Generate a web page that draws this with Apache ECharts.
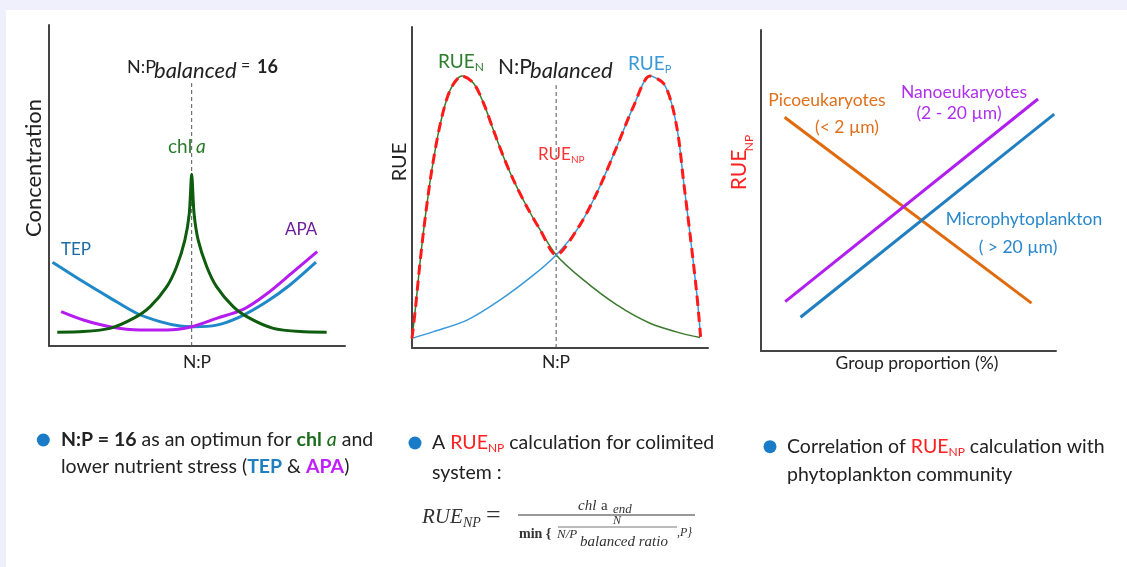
<!DOCTYPE html>
<html><head><meta charset="utf-8">
<script src="https://cdn.jsdelivr.net/npm/echarts@6/dist/echarts.min.js"></script>
<style>html,body{margin:0;padding:0;background:#eff0fc;}#c{position:absolute;left:0;top:0;width:1127px;height:567px;}</style>
</head><body><div id="c"></div>
<script>
// ---------- Panel 1: concentration vs N:P ----------
const chlA = [[2.8,4.3],[11.6,4.5],[20.6,5.5],[28.5,8.6],[34.1,12.2],[39.8,18.5],[43.1,24.7],[45.9,33.0],[47.4,41.3],[48.2,53.5],[49.0,41.3],[50.4,33.0],[53.3,24.7],[56.6,18.5],[62.3,12.2],[67.9,8.6],[75.8,5.5],[84.8,4.5],[93.8,4.3]];
const tep = [[1.2,26.1],[11.6,20.0],[20.6,15.0],[29.6,10.2],[37.5,7.6],[44.3,6.2],[48.8,6.0],[56.6,6.5],[64.5,9.1],[73.5,13.8],[81.4,19.0],[90.2,26.1]];
const apa = [[4.1,10.7],[11.6,8.1],[20.6,6.0],[30.7,5.0],[39.8,5.0],[48.2,6.0],[56.6,8.6],[65.6,11.4],[73.5,16.2],[82.5,23.1],[90.6,29.4]];
const balanced1 = [[48.2,0],[48.2,81.9]];
// ---------- Panel 2: RUE vs N:P ----------
const rueN = [[0,3.0],[1.1,11.8],[2.8,27.4],[4.5,40.9],[6.7,55.5],[9.6,70.0],[12.9,80.4],[16.9,84.7],[20.8,82.5],[24.2,76.2],[27.5,67.9],[30.9,59.6],[34.3,52.3],[38.8,44.0],[43.3,36.8],[48.7,29.0],[57.9,21.2],[69.2,13.4],[80.4,7.7],[91.7,4.4],[97.3,3.3]];
const rueP = [[0,3.0],[7.3,5.1],[18.6,8.7],[29.8,15.0],[41.0,22.7],[48.7,29.0],[55.7,36.8],[62.4,48.2],[69.2,62.7],[74.8,75.2],[80.4,84.7],[84.9,82.5],[87.7,76.2],[90.0,65.8],[91.7,52.3],[93.9,35.7],[96.2,17.0],[97.5,3.5]];
const npBalanced = 48.7;
const balanced2 = [[48.7,0],[48.7,81.9]];
const rueNP = rueN.filter(p => p[0] <= npBalanced).concat(rueP.filter(p => p[0] > npBalanced));
// ---------- Panel 3: RUE_NP vs group proportion ----------
const pico = [[8.0,72.8],[91.7,14.9]];
const nano = [[8.2,15.4],[93.9,78.5]];
const micro = [[13.4,10.5],[99.4,73.8]];

const F = "Lato,'Open Sans',sans-serif";
const SERIF = "'Liberation Serif','DejaVu Serif',serif";
const TXT = '#222';
const BODY = 19.5;

function ax(i){
  return {type:'value', gridIndex:i, min:0, max:100,
    axisLine:{show:true, onZero:false, lineStyle:{color:'#444', width:2}},
    axisTick:{show:false}, axisLabel:{show:false}, splitLine:{show:false}};
}
function ln(i, data, color, width, smooth, type){
  return {type:'line', xAxisIndex:i, yAxisIndex:i, data:data, showSymbol:false, smooth:smooth,
    lineStyle:{color:color, width:width, type:type||'solid'}, silent:true};
}
function t(x, y, text, size, color, extra){
  return {type:'text', x:x, y:y, style:Object.assign({text:text, fontFamily:F, fontSize:size, fill:color||TXT, align:'left', verticalAlign:'middle'}, extra||{})};
}
function tc(x, y, text, size, color, extra){ return t(x,y,text,size,color,Object.assign({align:'center'}, extra||{})); }
function tr(x, y, text, size, color, extra){
  return {type:'text', x:x, y:y, rotation:Math.PI/2, style:Object.assign({text:text, fontFamily:F, fontSize:size, fill:color||TXT, align:'center', verticalAlign:'middle'}, extra||{})};
}
function subRich(color, big, small){
  return {
    r:{fontFamily:F, fontSize:big, fill:color, lineHeight:big+3},
    s:{fontFamily:F, fontSize:small, fill:color, verticalAlign:'bottom', lineHeight:big+3}
  };
}

const graphics = [
  {type:'rect', z:-10, shape:{x:6, y:10, width:1121, height:557}, style:{fill:'#ffffff'}},
  // Panel 1
  t(127,67,'N:P',18), t(154,71,'balanced',22,TXT,{fontStyle:'italic'}), t(241,66,'=',16), t(257,67,'16',18,TXT,{fontWeight:'bold'}),
  t(168,147,'chl',19,'#2a7a2a'), t(196,147,'a',19,'#2a7a2a',{fontStyle:'italic'}),
  t(61,250,'TEP',17,'#1f6aa5'), t(285,230,'APA',17,'#6d1d9c'),
  tc(197,362,'N:P',17.5),
  tr(34,168,'Concentration',22),
  // Panel 2
  t(438,62,'{r|RUE}{s|N}',19,'#2d7d2d',{rich:subRich('#2d7d2d',19,12)}),
  t(498,67,'N:P',21), t(530,71,'balanced',22,TXT,{fontStyle:'italic'}),
  t(628,64,'{r|RUE}{s|P}',19,'#3a9ad9',{rich:subRich('#3a9ad9',19,11)}),
  t(538,155,'{r|RUE}{s|NP}',17,'#ff3333',{rich:subRich('#ff3333',17,10)}),
  tc(556,362,'N:P',17.5),
  tr(400,162,'RUE',20),
  // Panel 3
  tc(827,100,'Picoeukaryotes',17.5,'#e0701c'), tc(847,127,'(< 2 µm)',17.5,'#e0701c'),
  tc(964,92,'Nanoeukaryotes',17.5,'#b030f0'), tc(959,113,'(2 - 20 µm)',17.5,'#b030f0'),
  tc(1024,219,'Microphytoplankton',17.5,'#2a88cc'), tc(1018,247,'( > 20 µm)',17.5,'#2a88cc'),
  tc(917,363,'Group proportion (%)',17.5),
  tr(739,170,'RUE',21,'#ff2020'),
  tr(749,143,'NP',12,'#ff2020'),
  // Bullets
  {type:'circle', shape:{cx:43.3, cy:440, r:6.5}, style:{fill:'#1a7cc8'}},
  {type:'circle', shape:{cx:415, cy:443, r:6.5}, style:{fill:'#1a7cc8'}},
  {type:'circle', shape:{cx:770, cy:446.7, r:6.5}, style:{fill:'#1a7cc8'}},
  t(61,440,'{b|N:P = 16} as an optimun for {g|chl} {gi|a} and',BODY,TXT,{rich:{
     b:{fontWeight:'bold', fontFamily:F, fontSize:BODY, fill:TXT},
     g:{fontWeight:'bold', fontFamily:F, fontSize:BODY, fill:'#1a6b1a'},
     gi:{fontStyle:'italic', fontFamily:F, fontSize:BODY, fill:'#1a6b1a'}}}),
  t(61,467,'lower nutrient stress ({tp|TEP} & {ap|APA})',BODY,TXT,{rich:{
     tp:{fontWeight:'bold', fontFamily:F, fontSize:BODY, fill:'#1f7fc0'},
     ap:{fontWeight:'bold', fontFamily:F, fontSize:BODY, fill:'#c020ff'}}}),
  t(432,443,'A {r|RUE}{s|NP} calculation for colimited',BODY,TXT,{rich:subRich('#ff2020',BODY,12)}),
  t(432,473,'system :',BODY),
  t(787,447,'Correlation of {r|RUE}{s|NP} calculation with',BODY,TXT,{rich:subRich('#ff2020',BODY,12)}),
  t(787,475,'phytoplankton community',BODY),
  // Formula
  t(422,517,'RUE',21,'#333',{fontFamily:SERIF, fontStyle:'italic'}),
  t(463,523,'NP',14,'#333',{fontFamily:SERIF, fontStyle:'italic'}),
  t(486,516,'=',26,'#333',{fontFamily:SERIF}),
  {type:'line', shape:{x1:518, y1:515, x2:695, y2:515}, style:{stroke:'#777', lineWidth:1.5}},
  t(578,506,'chl',15,'#333',{fontFamily:SERIF, fontStyle:'italic'}),
  t(601,506,'a',15,'#333',{fontFamily:SERIF}),
  t(613,510,'end',13,'#333',{fontFamily:SERIF, fontStyle:'italic'}),
  t(519,534,'min {',14,'#333',{fontFamily:SERIF, fontWeight:'bold'}),
  tc(617,521,'N',12,'#333',{fontFamily:SERIF, fontStyle:'italic'}),
  {type:'line', shape:{x1:558, y1:527, x2:677, y2:527}, style:{stroke:'#777', lineWidth:1}},
  t(557,535,'N/P',13,'#333',{fontFamily:SERIF, fontStyle:'italic'}),
  t(580,542,'balanced ratio',15,'#333',{fontFamily:SERIF, fontStyle:'italic'}),
  t(677,533,',P}',12,'#333',{fontFamily:SERIF, fontStyle:'italic'})
];

const chart = echarts.init(document.getElementById('c'), null, {renderer:'canvas'});
chart.setOption({
  animation:false,
  backgroundColor:'#eff0fc',
  grid:[
    {left:49, top:25, width:296, height:321},
    {left:412, top:27, width:296, height:321},
    {left:761, top:30, width:295, height:321}
  ],
  xAxis:[ax(0),ax(1),ax(2)],
  yAxis:[ax(0),ax(1),ax(2)],
  series:[
    ln(0, balanced1, '#555', 1, false, [4,3]),
    ln(0, tep, '#1e88c8', 3, 0.3),
    ln(0, apa, '#b51cf0', 3, 0.3),
    ln(0, chlA, '#0e5c0e', 3, 0.25),
    ln(1, balanced2, '#555', 1, false, [4,3]),
    ln(1, rueN, '#3b7a2e', 1.5, 0.3),
    ln(1, rueP, '#3a9ad9', 1.5, 0.3),
    ln(1, rueNP, '#ff1a1a', 3, 0.3, [10,6]),
    ln(2, pico, '#e06a0c', 3, false),
    ln(2, nano, '#b01ef0', 3, false),
    ln(2, micro, '#1f7fc0', 3, false)
  ],
  graphic:{elements:graphics}
});
</script></body></html>
